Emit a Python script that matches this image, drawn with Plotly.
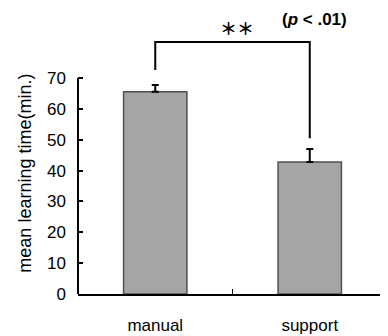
import plotly.graph_objects as go

categories = ["manual", "support"]
means = [65.5, 42.8]
errors = [2.2, 4.2]
y_ticks = [0, 10, 20, 30, 40, 50, 60, 70]

bracket_top = 81.7
bracket_left_end = 72.6
bracket_right_end = 50.5

FONT = "Liberation Sans, Arial, sans-serif"

fig = go.Figure()
fig.add_trace(go.Bar(
    x=categories, y=means, width=0.41,
    marker=dict(color="#a5a5a5", line=dict(color="#505050", width=1.5)),
    error_y=dict(type="data", array=errors, arrayminus=[0, 0], symmetric=False,
                 color="black", thickness=2, width=3.5),
    showlegend=False,
))

# significance bracket
fig.add_trace(go.Scatter(
    x=[categories[0], categories[0], categories[1], categories[1]],
    y=[bracket_left_end, bracket_top, bracket_top, bracket_right_end],
    mode="lines", line=dict(color="black", width=2), showlegend=False,
    cliponaxis=False, hoverinfo="skip",
))

# y axis line from 0 to 70
fig.add_shape(type="line", xref="x domain", yref="y", x0=0, x1=0, y0=0, y1=70,
              line=dict(color="black", width=2))

fig.add_annotation(x=0.53, y=86.4, xref="x", yref="y", text="<b>＊＊</b>", showarrow=False,
                   font=dict(family="Noto Sans CJK JP", size=17, color="black"))
fig.add_annotation(x=1.03, y=89.0, xref="x", yref="y",
                   text="<b>(<i>p</i> < .01)</b>", showarrow=False,
                   font=dict(family=FONT, size=17, color="black"))
fig.add_annotation(x=-53 / 309, y=39, xref="paper", yref="y", textangle=-90,
                   xanchor="center", yanchor="middle",
                   text="mean learning time(min.)", showarrow=False,
                   font=dict(family=FONT, size=18, color="black"))

# page body has an 8px margin: figure is sized so the plot lands where intended
fig.update_layout(
    width=380, height=328,
    margin=dict(l=70, r=1, t=0, b=42),
    plot_bgcolor="white", paper_bgcolor="white",
    font=dict(family=FONT, color="black"),
)
fig.update_xaxes(
    range=[-0.5, 1.5], showline=True, linecolor="black", linewidth=2,
    ticks="inside", tickson="boundaries", ticklen=5, tickcolor="black",
    tickfont=dict(size=17), ticklabelstandoff=15, showgrid=False, automargin=False,
)
fig.update_yaxes(
    range=[0, 92.68], tickvals=y_ticks, showline=False, showgrid=False, zeroline=False,
    ticks="inside", ticklen=5, tickcolor="black", tickwidth=1.5,
    tickfont=dict(size=17), ticklabelstandoff=11, automargin=False,
)

fig.write_html("out.html")
